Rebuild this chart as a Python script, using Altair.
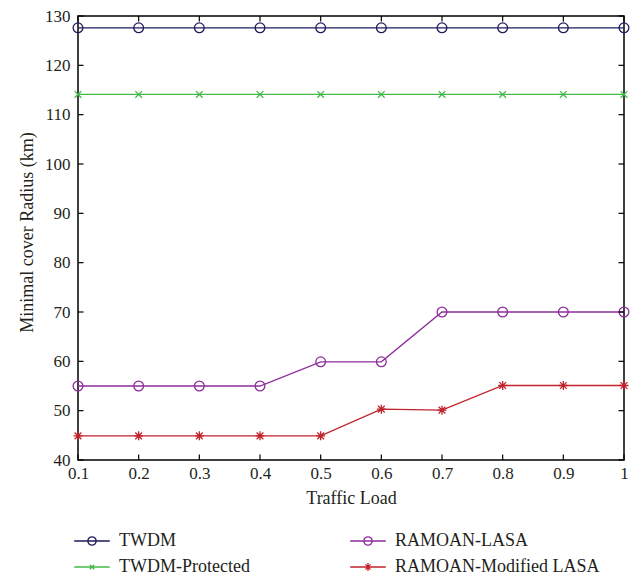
import altair as alt
import pandas as pd

# Traffic load values (x axis)
load = [0.1, 0.2, 0.3, 0.4, 0.5, 0.6, 0.7, 0.8, 0.9, 1.0]

# Minimal cover radius (km) per scheme
twdm = [127.6, 127.6, 127.6, 127.6, 127.6, 127.6, 127.6, 127.6, 127.6, 127.6]
twdm_protected = [114.1, 114.1, 114.1, 114.1, 114.1, 114.1, 114.1, 114.1, 114.1, 114.1]
ramoan_lasa = [55.0, 55.0, 55.0, 55.0, 59.9, 59.9, 70.0, 70.0, 70.0, 70.0]
ramoan_mod_lasa = [44.9, 44.9, 44.9, 44.9, 44.9, 50.3, 50.1, 55.1, 55.1, 55.1]

series_names = ["TWDM", "TWDM-Protected", "RAMOAN-LASA", "RAMOAN-Modified LASA"]
series_values = [twdm, twdm_protected, ramoan_lasa, ramoan_mod_lasa]
series_colors = ["#1d1c5c", "#45b94c", "#8e2d9c", "#c1232b"]

x_ticks = [0.1, 0.2, 0.3, 0.4, 0.5, 0.6, 0.7, 0.8, 0.9, 1.0]
y_ticks = [40, 50, 60, 70, 80, 90, 100, 110, 120, 130]

rows = []
for name, vals in zip(series_names, series_values):
    for xv, yv in zip(load, vals):
        rows.append({"load": xv, "radius": yv, "series": name})
df = pd.DataFrame(rows)

W, H = 546, 444
FONT = "Liberation Serif"
TEXT = "#231f20"
TICK = 5.5

# Marker glyphs drawn on the data points
plot_shapes = {
    "TWDM": "circle",
    "RAMOAN-LASA": "circle",
    "TWDM-Protected": "M-1,-1L1,1M-1,1L1,-1",
    "RAMOAN-Modified LASA": "M0,-1L0,1M-1,0L1,0M-0.75,-0.75L0.75,0.75M-0.75,0.75L0.75,-0.75",
}
plot_sizes = {"TWDM": 95, "RAMOAN-LASA": 95, "TWDM-Protected": 45, "RAMOAN-Modified LASA": 80}

# Legend glyphs: a short line segment with the marker on it
L = 1.37
c = 0.32
circle_glyph = f"M-{L},0L{L},0M{c},0A{c},{c} 0 1,1 -{c},0A{c},{c} 0 1,1 {c},0"
legend_paths = [
    circle_glyph,
    f"M-{L},0L{L},0M-0.17,-0.17L0.17,0.17M-0.17,0.17L0.17,-0.17",
    circle_glyph,
    f"M-{L},0L{L},0M0,-0.3L0,0.3M-0.25,0L0.25,0M-0.2,-0.2L0.2,0.2M-0.2,0.2L0.2,-0.2",
]

cscale = alt.Scale(domain=series_names, range=series_colors)

legend_props = dict(
    orient="none", legendX=0, legendY=511, columns=2, columnPadding=97, rowPadding=3,
    symbolSize=676, symbolStrokeWidth=1.3, symbolFillColor="transparent", symbolOpacity=1,
    labelFontSize=18, labelFont=FONT, labelColor=TEXT, labelOffset=13, labelLimit=300,
    padding=0, title=None,
)
color_enc = alt.Color("series:N", scale=cscale, legend=alt.Legend(**legend_props))

x_enc = alt.X(
    "load:Q",
    scale=alt.Scale(domain=[0.1, 1.0], nice=False, zero=False),
    axis=alt.Axis(
        values=x_ticks, format="~g", ticks=False, tickSize=0, domain=False, grid=False,
        labelPadding=5, labelFontSize=17, labelFlush=False, title="Traffic Load",
        titleX=W / 2, titleY=43, titleBaseline="alphabetic", titleAlign="center",
    ),
)
y_enc = alt.Y(
    "radius:Q",
    scale=alt.Scale(domain=[40, 130], nice=False, zero=False),
    axis=alt.Axis(
        values=y_ticks, ticks=False, tickSize=0, domain=False, grid=False,
        labelPadding=8, labelFontSize=17, labelFlush=False, title="Minimal cover Radius (km)",
        titleAngle=270, titleX=-46, titleY=216, titleBaseline="alphabetic", titleAlign="center",
    ),
)

base = alt.Chart(df)

lines = base.mark_line(strokeWidth=1.3).encode(
    x=x_enc, y=y_enc, color=color_enc, detail="series:N"
)

markers = []
for name in series_names:
    markers.append(
        base.transform_filter(alt.datum.series == name)
        .mark_point(shape=plot_shapes[name], size=plot_sizes[name], strokeWidth=1.3, filled=False, opacity=1)
        .encode(x="load:Q", y="radius:Q", color=color_enc)
    )

# Legend-only layer: no rows survive the filter, the legend comes from the scale domain
legend_layer = base.transform_filter(alt.datum.load > 100).mark_point(filled=False).encode(
    x="load:Q", y="radius:Q",
    color=color_enc,
    shape=alt.Shape("series:N", scale=alt.Scale(domain=series_names, range=legend_paths),
                    legend=alt.Legend(**legend_props)),
)

# Inward-pointing tick marks on all four sides of the frame
xt = alt.Chart(pd.DataFrame({"t": x_ticks}))
yt = alt.Chart(pd.DataFrame({"t": y_ticks}))
tick_style = dict(color="black", strokeWidth=1.2)
ticks_bottom = xt.mark_rule(**tick_style).encode(x="t:Q", y=alt.value(H), y2=alt.value(H - TICK))
ticks_top = xt.mark_rule(**tick_style).encode(x="t:Q", y=alt.value(0), y2=alt.value(TICK))
ticks_left = yt.mark_rule(**tick_style).encode(y="t:Q", x=alt.value(0), x2=alt.value(TICK))
ticks_right = yt.mark_rule(**tick_style).encode(y="t:Q", x=alt.value(W), x2=alt.value(W - TICK))

chart = (
    alt.layer(legend_layer, lines, *markers, ticks_bottom, ticks_top, ticks_left, ticks_right)
    .properties(
        width=W, height=H,
        autosize=alt.AutoSizeParams(type="none"),
        padding={"left": 78, "top": 16, "right": 637 - 78 - W, "bottom": 577 - 16 - H},
        background="white",
    )
    .configure_view(stroke="black", strokeWidth=1.5)
    .configure_axis(
        labelFont=FONT, titleFont=FONT, labelColor=TEXT, titleColor=TEXT,
        titleFontSize=18, titleFontWeight="normal",
    )
)

chart.save("out.html", embed_options={"renderer": "svg", "actions": False})
